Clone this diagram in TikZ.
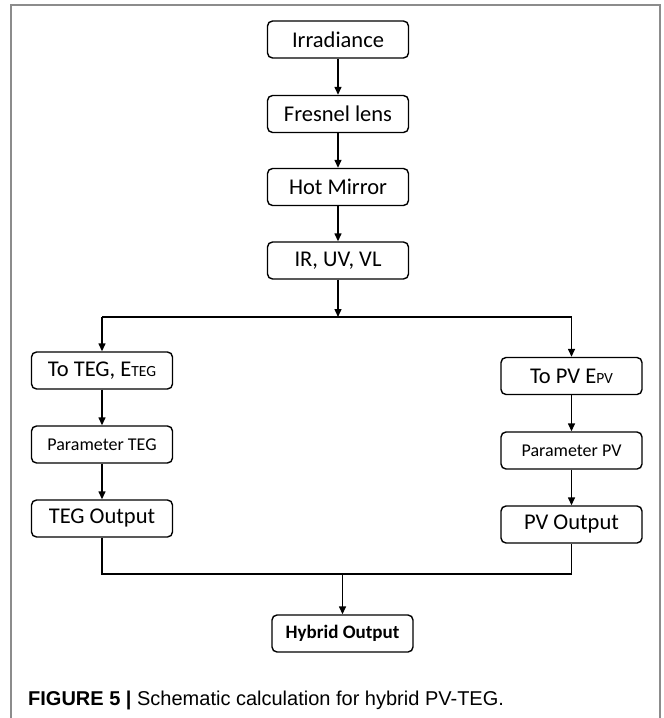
\documentclass[tikz,border=0pt]{standalone}
\usepackage{fontspec}
\setmainfont{Carlito}
\newfontfamily\capfont{Liberation Sans}
\usetikzlibrary{arrows.meta}
\begin{document}
\begin{tikzpicture}[x=1pt,y=-1pt,
 box/.style={draw=black, line width=1.4pt, rounded corners=5pt, minimum width=141pt, minimum height=37pt, inner sep=0pt, font=\fontsize{22.5}{24}\selectfont},
 smallbox/.style={box, font=\fontsize{18}{20}\selectfont},
 boldbox/.style={box, font=\bfseries\fontsize{19}{20}\selectfont},
 conn/.style={line width=1.4pt, -{Triangle[length=8pt,width=7pt]}},
 wire/.style={line width=1.4pt},
 frame/.style={draw=black!45, line width=2pt}]
\useasboundingbox (0,0) rectangle (664,718);
\draw[frame] (11,718) -- (11,4.5) -- (660,4.5) -- (660,718);

\node[box] (irr) at (338,39.5) {Irradiance};
\node[box] (fres) at (338,114) {Fresnel lens};
\node[box] (hot) at (338,187) {Hot Mirror};
\node[box] (ir) at (338,260.5) {IR, UV, VL};
\coordinate (split) at (338,317);
\coordinate (splitL) at (102,317);
\coordinate (splitR) at (571.5,317);

\node[box] (toteg) at (102,370.5) {To TEG, E{\fontsize{15.5}{15}\selectfont TEG}};
\node[smallbox] (parteg) at (102,444.5) {Parameter TEG};
\node[box] (tegout) at (102,518.5) {TEG Output};

\node[box] (topv) at (571.5,376) {To PV E{\fontsize{15.5}{15}\selectfont PV}};
\node[smallbox] (parpv) at (571.5,450.5) {Parameter PV};
\node[box] (pvout) at (571.5,524.5) {PV Output};

\node[boldbox] (hyb) at (342.5,633.5) {Hybrid Output};
\coordinate (mergeL) at (102,574);
\coordinate (mergeR) at (571.5,574);
\coordinate (merge) at (342.5,574);

\draw[conn] (irr) -- (fres);
\draw[conn] (fres) -- (hot);
\draw[conn] (hot) -- (ir);
\draw[conn] (ir) -- (split);
\draw[wire] (splitL) -- (splitR);
\draw[conn] (splitL) -- (toteg);
\draw[conn] (splitR) -- (topv);
\draw[conn] (toteg) -- (parteg);
\draw[conn] (parteg) -- (tegout);
\draw[conn] (topv) -- (parpv);
\draw[conn] (parpv) -- (pvout);
\draw[wire] (tegout) -- (mergeL) -- (mergeR) -- (pvout);
\draw[conn] (merge) -- (hyb);

\node[anchor=base west, inner sep=0pt, font=\capfont\fontsize{20}{24}\selectfont] (cap) at (28,705.7) {\textbf{FIGURE 5 |} Schematic calculation for hybrid PV-TEG.};
\end{tikzpicture}
\end{document}
